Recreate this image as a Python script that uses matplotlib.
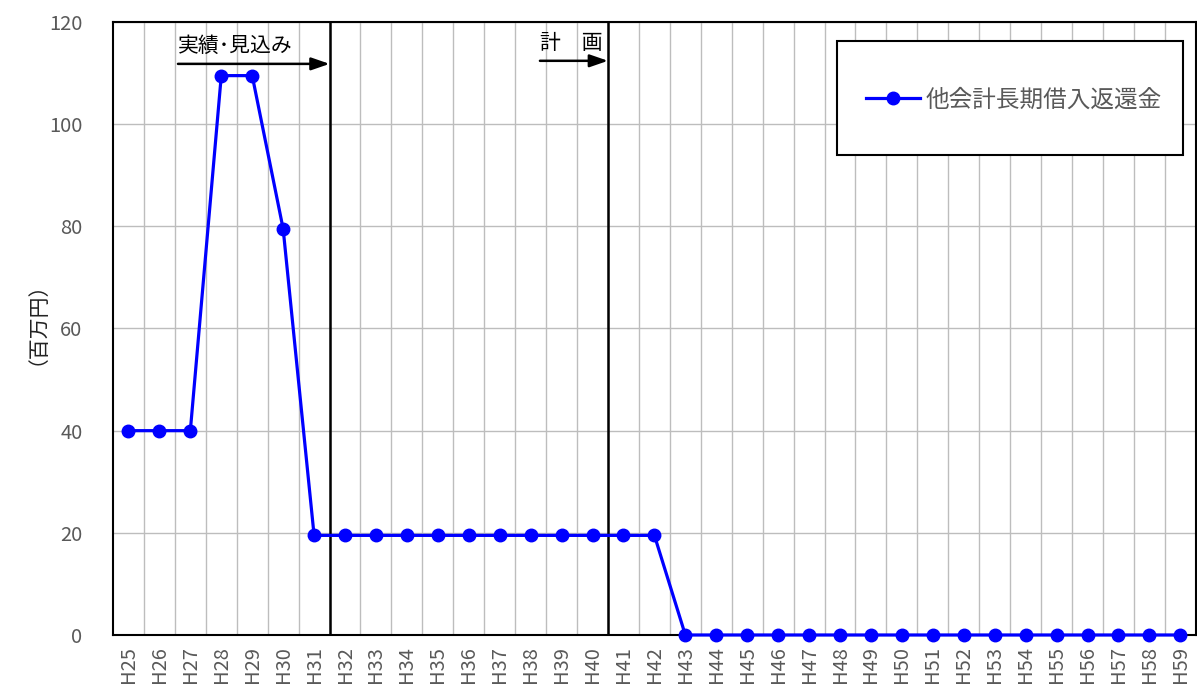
import matplotlib
matplotlib.use("Agg")
import matplotlib.pyplot as plt
from matplotlib.patches import Rectangle
import numpy as np

plt.rcParams["font.family"] = ["Noto Sans CJK JP", "DejaVu Sans"]

# Fiscal years H25..H59 and repayment amounts (million yen)
years = [f"H{n}" for n in range(25, 60)]
repayment = [40, 40, 40, 109.5, 109.5, 79.5,
             19.5, 19.5, 19.5, 19.5, 19.5, 19.5, 19.5, 19.5, 19.5, 19.5, 19.5, 19.5,
             0, 0, 0, 0, 0, 0, 0, 0, 0, 0, 0, 0, 0, 0, 0, 0, 0]
series_name = "他会計長期借入返還金"

gray = "#595959"
x = np.arange(len(years))

fig = plt.figure(figsize=(11.97, 6.87), dpi=100)
ax = fig.add_axes([0.0944, 0.0757, 0.9046, 0.8923])

ax.set_xlim(-0.5, len(years) - 0.5)
ax.set_ylim(0, 120)
ax.set_yticks(np.arange(0, 121, 20))
ax.set_xticks(x)
ax.set_xticklabels(years, rotation=90)
ax.set_xticks(x[:-1] + 0.5, minor=True)
ax.tick_params(axis="both", which="both", length=0, labelsize=14.5, labelcolor=gray)
ax.tick_params(axis="x", pad=8)
ax.tick_params(axis="y", pad=22)

ax.grid(True, axis="y", color="#bdbdbd", linewidth=1.0)
ax.grid(True, axis="x", which="minor", color="#bdbdbd", linewidth=1.0)
ax.grid(False, axis="x", which="major")
ax.set_axisbelow(True)

for side in ["left", "top", "bottom", "right"]:
    ax.spines[side].set_color("black")
    ax.spines[side].set_linewidth(1.5)

ax.set_ylabel("（百万円）", fontsize=15, color="#222222")
ax.yaxis.set_label_coords(-0.07, 0.525)

# Boundaries between actual/forecast and plan periods
ax.axvline(6.5, color="black", linewidth=1.8, zorder=3)
ax.axvline(15.5, color="black", linewidth=1.8, zorder=3)

line, = ax.plot(x, repayment, color="#0000ff", linewidth=2.3, marker="o",
                markersize=9, zorder=4, clip_on=False, label=series_name)

# Period labels with arrows
arrow = dict(arrowstyle="-|>,head_length=1.1,head_width=0.38",
             color="black", lw=1.8, shrinkA=0, shrinkB=0)
ax.annotate("", xy=(6.5, 111.8), xytext=(1.6, 111.8), arrowprops=arrow)
ax.text(1.6, 115.3, "実績･見込み", fontsize=15, color="black", va="center", ha="left")
ax.annotate("", xy=(15.5, 112.4), xytext=(13.3, 112.4), arrowprops=arrow)
ax.text(13.3, 115.8, "計　画", fontsize=15, color="black", va="center", ha="left")

# Legend box
ax.add_patch(Rectangle((0.669, 0.783), 0.319, 0.186, transform=ax.transAxes,
                       facecolor="white", edgecolor="black", linewidth=1.5, zorder=5))
leg = ax.legend(handles=[line], loc="center left", bbox_to_anchor=(0.695, 0.873),
                frameon=False, fontsize=17, handlelength=2.3, handletextpad=0.25,
                borderpad=0, borderaxespad=0)
leg.set_zorder(6)
for t in leg.get_texts():
    t.set_color(gray)

fig.savefig("out.png", dpi=100)
